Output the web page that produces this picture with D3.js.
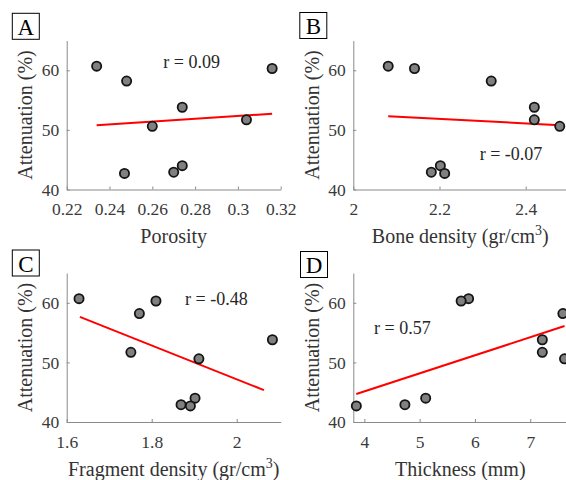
<!DOCTYPE html>
<html>
<head>
<meta charset="utf-8">
<script src="https://cdn.jsdelivr.net/npm/d3@7"></script>
<style>
  body { margin: 0; background: #fff; }
  svg { display: block; }
  text { font-family: "Liberation Serif", "Times New Roman", serif; }
</style>
</head>
<body>
<div id="the_chart"></div>
<script>
// attenuation (%) of the nine samples, shared by all panels
var attenuation = [60.7, 60.3, 58.2, 53.8, 51.7, 50.6, 44.0, 42.9, 42.7];
var porosity     = [0.234, 0.316, 0.248, 0.274, 0.304, 0.260, 0.274, 0.270, 0.247];
var boneDensity  = [2.081, 2.142, 2.320, 2.420, 2.420, 2.479, 2.202, 2.181, 2.212];
var fragDensity  = [1.629, 1.810, 1.771, 2.084, 1.751, 1.911, 1.902, 1.869, 1.891];
var thickness    = [5.885, 5.750, 7.590, 7.218, 7.218, 7.620, 5.109, 4.733, 3.855];

// fitted lines, end points [x0, y0, x1, y1]
var fitA = [0.234, 50.8, 0.316, 52.7];
var fitB = [2.081, 52.3, 2.479, 50.8];
var fitC = [1.631, 57.65, 2.064, 45.35];
var fitD = [3.855, 44.7, 7.62, 56.1];

var yTicks = [40, 50, 60];
var corrLabels = ["r = 0.09", "r = -0.07", "r = -0.48", "r = 0.57"];

var w = 566, h = 480;
var axW = 214, axH = 149;

var svg = d3.select("#the_chart")
            .append("svg")
            .attr("width", w)
            .attr("height", h);

var panels = [
  { letter: "A", x: porosity, fit: fitA, xdom: [0.22, 0.32], ticks: [0.22, 0.24, 0.26, 0.28, 0.3, 0.32],
    fmt: d3.format(""), left: 66.7, top: 40.5, label: ["Porosity"], r: corrLabels[0], rx: 96.6, ry: 27.8, rAnchor: "start" },
  { letter: "B", x: boneDensity, fit: fitB, xdom: [2, 2.4965], ticks: [2, 2.2, 2.4],
    fmt: d3.format(""), left: 353.3, top: 40.5, label: ["Bone density (gr/cm", "3", ")"], r: corrLabels[1], rx: 126.4, ry: 119.5, rAnchor: "start" },
  { letter: "C", x: fragDensity, fit: fitC, xdom: [1.6, 2.1035], ticks: [1.6, 1.8, 2],
    fmt: d3.format(""), left: 66.7, top: 273, label: ["Fragment density (gr/cm", "3", ")"], r: corrLabels[2], rx: 118.3, ry: 32, rAnchor: "start" },
  { letter: "D", x: thickness, fit: fitD, xdom: [3.8, 7.67], ticks: [4, 5, 6, 7],
    fmt: d3.format(""), left: 353.3, top: 273, label: ["Thickness (mm)"], r: corrLabels[3], rx: 20.7, ry: 61, rAnchor: "start" }
];

var boxPos = [[12.3, 13.3], [299.8, 12.5], [12.3, 250], [300.5, 251.5]];

panels.forEach(function (p, k) {
  var g = svg.append("g").attr("transform", "translate(" + p.left + "," + p.top + ")");

  var xscale = d3.scaleLinear().domain(p.xdom).range([0, axW]);
  var yscale = d3.scaleLinear().domain([40, 65]).range([axH, 0]);

  var xaxis = d3.axisBottom(xscale).tickValues(p.ticks).tickFormat(p.fmt)
                .tickSizeInner(-3).tickSizeOuter(0).tickPadding(13.5);
  var yaxis = d3.axisLeft(yscale).tickValues(yTicks)
                .tickSizeInner(-3).tickSizeOuter(0).tickPadding(7.5);

  var gx = g.append("g").attr("class", "xaxis")
            .attr("transform", "translate(0," + axH + ")").call(xaxis);
  var gy = g.append("g").attr("class", "yaxis").call(yaxis);

  [gx, gy].forEach(function (a) {
    a.select(".domain").attr("stroke", "#8a8a8a").attr("stroke-width", 1);
    a.selectAll(".tick line").attr("stroke", "#8a8a8a");
    a.selectAll(".tick text")
     .attr("fill", "#3a3a3a")
     .style("font-size", "17.5px")
     .style("font-family", "'Liberation Serif', serif");
  });

  // fit line
  g.append("line")
   .attr("x1", xscale(p.fit[0])).attr("y1", yscale(p.fit[1]))
   .attr("x2", xscale(p.fit[2])).attr("y2", yscale(p.fit[3]))
   .attr("stroke", "#ff0000")
   .attr("stroke-width", 2);

  // points
  g.selectAll("circle")
   .data(attenuation)
   .enter().append("circle")
   .attr("cx", function (d, i) { return xscale(p.x[i]); })
   .attr("cy", function (d) { return yscale(d); })
   .attr("r", 4.6)
   .attr("fill", "#808080")
   .attr("stroke", "#141414")
   .attr("stroke-width", 1.8);

  // correlation text
  g.append("text")
   .attr("x", p.rx).attr("y", p.ry)
   .attr("text-anchor", p.rAnchor)
   .attr("fill", "#262626")
   .style("font-size", "18px")
   .text(p.r);

  // axis titles
  g.append("text")
   .attr("transform", "translate(-34.5," + (axH / 2) + ") rotate(-90)")
   .attr("text-anchor", "middle")
   .attr("fill", "#333")
   .style("font-size", "20px")
   .text("Attenuation (%)");

  var xt = g.append("text")
   .attr("x", axW / 2).attr("y", axH + 53.5)
   .attr("text-anchor", "middle")
   .attr("fill", "#333")
   .style("font-size", "20px");
  xt.append("tspan").text(p.label[0]);
  if (p.label.length > 1) {
    xt.append("tspan").attr("dy", -8).style("font-size", "14px").text(p.label[1]);
    xt.append("tspan").attr("dy", 8).text(p.label[2]);
  }

  // panel letter box
  var b = boxPos[k];
  svg.append("rect")
     .attr("x", b[0]).attr("y", b[1])
     .attr("width", 27).attr("height", 26)
     .attr("fill", "#fff").attr("stroke", "#000").attr("stroke-width", 1);
  svg.append("text")
     .attr("x", b[0] + 13.5).attr("y", b[1] + 21.5)
     .attr("text-anchor", "middle")
     .attr("fill", "#000")
     .style("font-size", "23px")
     .text(p.letter);
});
</script>
</body>
</html>
